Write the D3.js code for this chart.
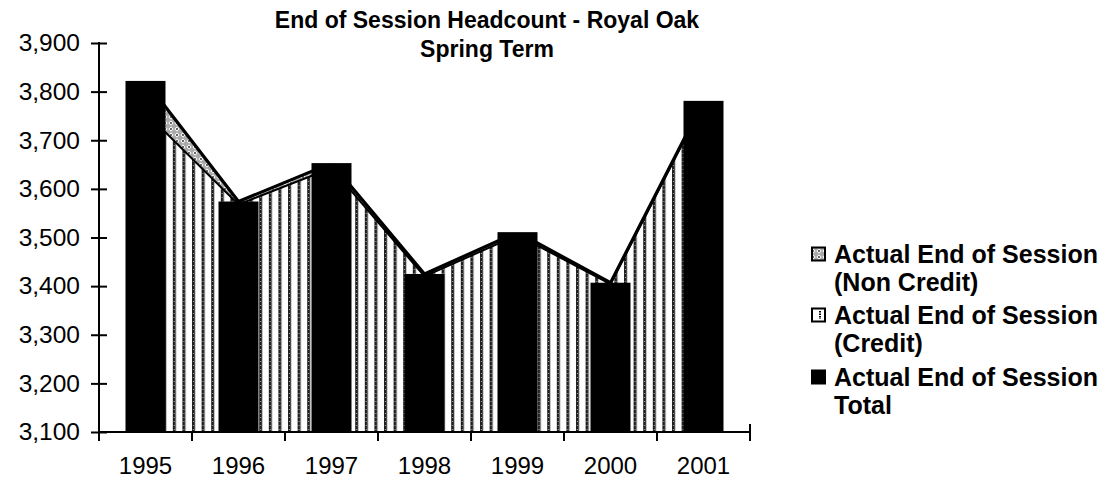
<!DOCTYPE html>
<html>
<head>
<meta charset="utf-8">
<script src="https://cdn.jsdelivr.net/npm/d3@7"></script>
<style>
  html, body { margin: 0; padding: 0; background: #fff; }
  svg { display: block; font-family: "Liberation Sans", Arial, sans-serif; }
</style>
</head>
<body>
<svg id="chart" width="1107" height="480"></svg>
<script>
// ---- data ----
const years = ["1995", "1996", "1997", "1998", "1999", "2000", "2001"];
const creditValues    = [3757, 3568, 3643, 3420, 3505, 3404, 3777];
const nonCreditValues = [65, 6, 10, 5, 6, 3, 4];
const totalValues     = [3822, 3574, 3653, 3425, 3511, 3407, 3781];
const yTickValues = [3100, 3200, 3300, 3400, 3500, 3600, 3700, 3800, 3900];
const titleLines = ["End of Session Headcount - Royal Oak", "Spring Term"];
const legendEntries = [
  { key: "nonCredit", lines: ["Actual End of Session", "(Non Credit)"] },
  { key: "credit",    lines: ["Actual End of Session", "(Credit)"] },
  { key: "total",     lines: ["Actual End of Session", "Total"] }
];

(function () {
// ---- layout ----
const svg = d3.select("#chart");
const pLeft = 99, pRight = 750, pTop = 43, pBottom = 432;

const x = d3.scaleBand().domain(years).range([pLeft, pRight])
  .paddingInner(0.57).paddingOuter(0.285);
const xc = d => x(d) + x.bandwidth() / 2;
const y = d3.scaleLinear().domain([3100, 3900]).range([pBottom, pTop]).clamp(true);

// ---- patterns ----
const defs = svg.append("defs");
const stripe = defs.append("pattern").attr("id", "pStripe")
  .attr("patternUnits", "userSpaceOnUse").attr("width", 9.6).attr("height", 4);
stripe.append("rect").attr("width", 9.6).attr("height", 4).attr("fill", "#fff");
stripe.append("rect").attr("x", 0).attr("width", 2.8).attr("height", 4).attr("fill", "#1e1e1e");
stripe.append("rect").attr("x", 0.8).attr("y", 1).attr("width", 1.2).attr("height", 1).attr("fill", "#999");
stripe.append("rect").attr("x", 2.8).attr("width", 0.8).attr("height", 4).attr("fill", "#bbb");

const dots = defs.append("pattern").attr("id", "pDots")
  .attr("patternUnits", "userSpaceOnUse").attr("width", 6).attr("height", 6);
dots.append("rect").attr("width", 6).attr("height", 6).attr("fill", "#aaa");
dots.append("path").attr("d", "M3,0.5 L5.5,3 L3,5.5 L0.5,3 Z").attr("fill", "#fff");
dots.append("circle").attr("cx", 3).attr("cy", 3).attr("r", 0.9).attr("fill", "#222");

// mask: hide the area border strokes poking out above peak columns
const isPeak = i => totalValues[i] >= (i > 0 ? totalValues[i - 1] : -Infinity) &&
                    totalValues[i] >= (i < totalValues.length - 1 ? totalValues[i + 1] : -Infinity);
const mask = defs.append("mask").attr("id", "peakMask").attr("maskUnits", "userSpaceOnUse")
  .attr("x", 0).attr("y", 0).attr("width", 1107).attr("height", 480);
mask.append("rect").attr("width", 1107).attr("height", 480).attr("fill", "#fff");
mask.selectAll("rect.slot").data(years.filter((d, i) => isPeak(i))).join("rect").attr("class", "slot")
  .attr("x", d => x(d)).attr("width", x.bandwidth())
  .attr("y", d => y(totalValues[years.indexOf(d)]) - 3)
  .attr("height", 4).attr("fill", "#000");

// ---- title ----
svg.append("g").selectAll("text").data(titleLines).join("text")
  .attr("x", 487).attr("y", (d, i) => 20 + i * 28.5)
  .attr("text-anchor", "middle").attr("dominant-baseline", "central")
  .attr("font-size", 23).attr("font-weight", "bold").attr("fill", "#000")
  .text(d => d);

// ---- axes ----
const yAxis = svg.append("g").attr("transform", `translate(${pLeft},0)`)
  .call(d3.axisLeft(y).tickValues(yTickValues).tickSize(0).tickPadding(19)
    .tickFormat(d3.format(",")));
yAxis.select(".domain").remove();
yAxis.selectAll("text").attr("font-size", 24.5).attr("fill", "#000")
  .attr("font-family", "Liberation Sans, Arial, sans-serif");
yAxis.selectAll(".tick").append("line")
  .attr("x1", -8).attr("x2", 8).attr("stroke", "#000").attr("stroke-width", 2);

const xAxis = svg.append("g").attr("transform", `translate(0,${pBottom})`)
  .call(d3.axisBottom(x).tickSize(0).tickPadding(25));
xAxis.select(".domain").remove();
xAxis.selectAll("text").attr("font-size", 24).attr("fill", "#000")
  .attr("font-family", "Liberation Sans, Arial, sans-serif");
// boundary ticks (cross style)
const boundaries = years.map(d => x(d) - x.step() * x.paddingInner() / 2)
  .concat([pRight]);
xAxis.append("g").selectAll("line").data(boundaries).join("line")
  .attr("x1", d => d).attr("x2", d => d).attr("y1", -8).attr("y2", 9)
  .attr("stroke", "#000").attr("stroke-width", 2);

// ---- stacked areas ----
const table = years.map((yr, i) => ({ year: yr, credit: creditValues[i], nonCredit: nonCreditValues[i] }));
const stacked = d3.stack().keys(["credit", "nonCredit"])(table);
const area = d3.area()
  .x(d => xc(d.data.year))
  .y0(d => y(d[0]))
  .y1(d => y(d[1]));
svg.append("g").selectAll("path").data(stacked).join("path")
  .attr("d", area)
  .attr("fill", d => d.key === "credit" ? "url(#pStripe)" : "url(#pDots)");
const topLine = d3.line().x(d => xc(d.data.year)).y(d => y(d[1]));
svg.append("g").attr("mask", "url(#peakMask)").selectAll("path").data(stacked).join("path")
  .attr("d", topLine)
  .attr("fill", "none")
  .attr("stroke", "#000")
  .attr("stroke-width", d => d.key === "credit" ? 2 : 3.2)
  .attr("stroke-linejoin", "round");

// ---- bars ----
svg.append("g").selectAll("rect").data(years).join("rect")
  .attr("x", d => x(d)).attr("width", x.bandwidth())
  .attr("y", (d, i) => y(totalValues[i]))
  .attr("height", (d, i) => y(3100) - y(totalValues[i]))
  .attr("fill", "#000");

// ---- axis lines ----
svg.append("line").attr("x1", pLeft).attr("x2", pLeft).attr("y1", pTop - 1).attr("y2", pBottom + 1)
  .attr("stroke", "#000").attr("stroke-width", 2);
svg.append("line").attr("x1", pLeft).attr("x2", pRight).attr("y1", pBottom).attr("y2", pBottom)
  .attr("stroke", "#000").attr("stroke-width", 2);

// ---- legend ----
const lg = svg.append("g");
const rowY = [254, 315, 377];
legendEntries.forEach((e, i) => {
  const g = lg.append("g").attr("transform", `translate(0,${rowY[i]})`);
  const sw = 15;
  if (e.key === "total") {
    g.append("rect").attr("x", 811).attr("y", -sw / 2).attr("width", sw).attr("height", sw).attr("fill", "#000");
  } else if (e.key === "credit") {
    g.append("rect").attr("x", 812).attr("y", -sw / 2 + 1).attr("width", sw - 2).attr("height", sw - 2)
      .attr("fill", "#fff").attr("stroke", "#000").attr("stroke-width", 2);
    g.append("line").attr("x1", 820).attr("x2", 820).attr("y1", -4).attr("y2", 4)
      .attr("stroke", "#000").attr("stroke-width", 2).attr("stroke-dasharray", "1.5,1");
  } else {
    g.append("rect").attr("x", 812).attr("y", -sw / 2 + 1).attr("width", sw - 2).attr("height", sw - 2)
      .attr("fill", "url(#pDots)").attr("stroke", "#000").attr("stroke-width", 2);
  }
  g.selectAll("text").data(e.lines).join("text")
    .attr("x", 834).attr("y", (d, j) => j * 28)
    .attr("dominant-baseline", "central")
    .attr("font-size", 25).attr("font-weight", "bold").attr("fill", "#000")
    .text(d => d);
});
})();
</script>
</body>
</html>
